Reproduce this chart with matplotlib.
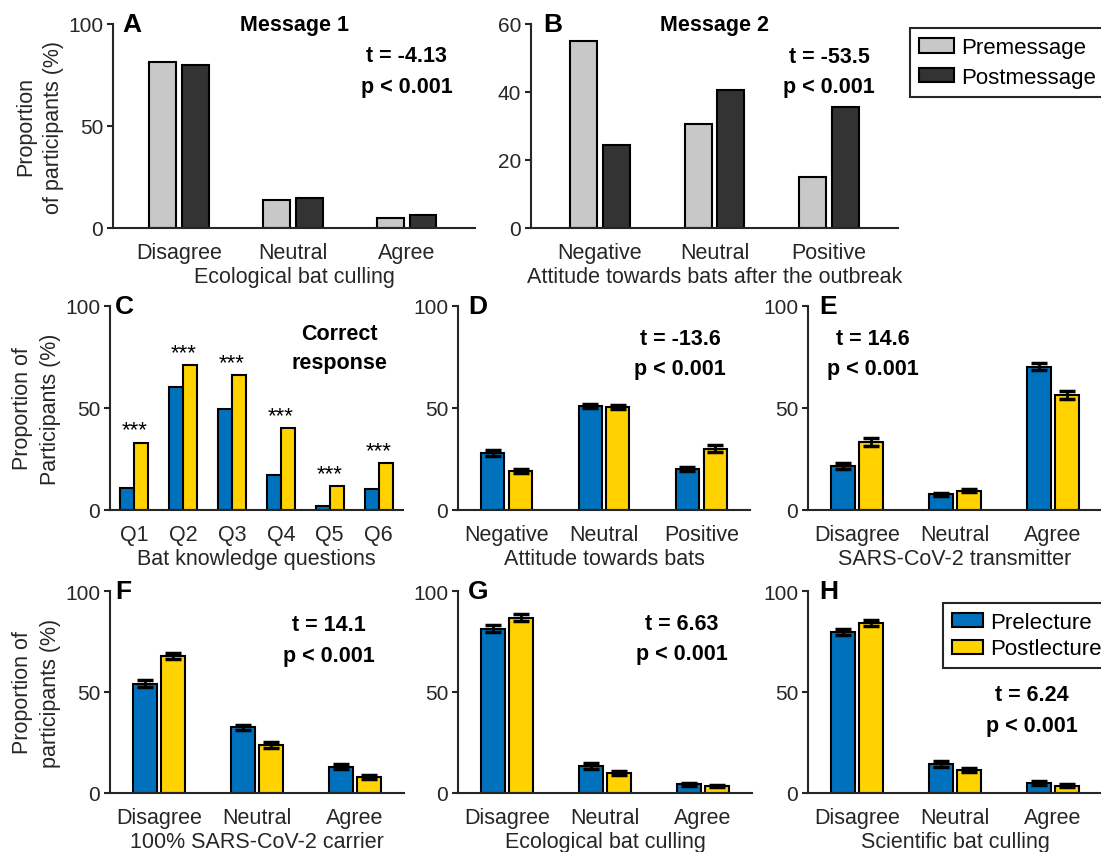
import matplotlib.pyplot as plt
import numpy as np

plt.rcParams['font.family'] = ['Liberation Sans', 'DejaVu Sans']

# colours
pre_msg_color = '#c8c8c8'
post_msg_color = '#333333'
pre_lec_color = '#0072bd'
post_lec_color = '#ffd200'
axis_color = '#262626'

# ---- data ----
likert = ['Disagree', 'Neutral', 'Agree']
attitude = ['Negative', 'Neutral', 'Positive']
questions = ['Q1', 'Q2', 'Q3', 'Q4', 'Q5', 'Q6']

# A: ecological bat culling, message 1
a_pre = [81.6, 13.9, 4.9]
a_post = [79.7, 14.8, 6.2]
# B: attitude after the outbreak, message 2
b_pre = [55.0, 30.5, 14.9]
b_post = [24.5, 40.6, 35.7]
# C: correct response to knowledge questions
c_pre = [10.8, 60.3, 49.7, 17.3, 2.0, 10.1]
c_post = [33.0, 70.9, 66.3, 40.2, 11.8, 22.9]
c_sig = ['***'] * 6
# D: attitude towards bats
d_pre = [28.1, 51.0, 20.3]
d_post = [19.1, 50.7, 30.1]
d_pre_err = [1.5, 1.0, 1.0]
d_post_err = [1.0, 1.0, 1.6]
# E: SARS-CoV-2 transmitter
e_pre = [21.6, 7.7, 70.3]
e_post = [33.3, 9.5, 56.4]
e_pre_err = [1.5, 0.6, 1.6]
e_post_err = [1.8, 0.8, 2.0]
# F: 100% SARS-CoV-2 carrier
f_pre = [54.2, 32.5, 13.0]
f_post = [67.7, 23.9, 7.7]
f_pre_err = [1.6, 1.4, 1.2]
f_post_err = [1.6, 1.5, 1.0]
# G: ecological bat culling
g_pre = [81.4, 13.5, 4.4]
g_post = [86.8, 9.9, 3.3]
g_pre_err = [1.6, 1.4, 0.7]
g_post_err = [1.6, 1.2, 0.5]
# H: scientific bat culling
h_pre = [79.7, 14.3, 4.9]
h_post = [84.3, 11.4, 3.6]
h_pre_err = [1.6, 1.4, 0.8]
h_post_err = [1.5, 1.2, 0.8]

W, H = 1101, 853
fig = plt.figure(figsize=(W / 100, H / 100), dpi=100)


def add_axes(left, right, top, bottom):
    return fig.add_axes([left / W, 1 - bottom / H, (right - left) / W, (bottom - top) / H])


def style(ax, cats, ymax, yticks, xlim, xlabel, ylabel=None):
    for s in ['top', 'right']:
        ax.spines[s].set_visible(False)
    for s in ['left', 'bottom']:
        ax.spines[s].set_linewidth(1.5)
        ax.spines[s].set_color(axis_color)
    ax.set_xlim(*xlim)
    ax.set_ylim(0, ymax)
    ax.set_yticks(yticks)
    ax.set_xticks(np.arange(1, len(cats) + 1))
    ax.set_xticklabels(cats)
    ax.tick_params(axis='y', direction='out', length=4, width=1.5, color=axis_color,
                   labelcolor=axis_color, labelsize=15, pad=3)
    ax.tick_params(axis='x', length=0, pad=10, labelcolor=axis_color, labelsize=15.5)
    ax.set_xlabel(xlabel, fontsize=15.5, color=axis_color, labelpad=2)
    if ylabel:
        ax.set_ylabel(ylabel, fontsize=15.5, color=axis_color, labelpad=3, linespacing=1.45)


def grouped(ax, pre, post, colors, width=0.235, off=0.143, pre_err=None, post_err=None, labels=(None, None)):
    x = np.arange(1, len(pre) + 1)
    b1 = ax.bar(x - off, pre, width, color=colors[0], edgecolor='black', linewidth=1.5, label=labels[0], zorder=2)
    b2 = ax.bar(x + off, post, width, color=colors[1], edgecolor='black', linewidth=1.5, label=labels[1], zorder=2)
    if pre_err is not None:
        ax.errorbar(x - off, pre, yerr=pre_err, fmt='none', ecolor='black', elinewidth=2,
                    capsize=6, capthick=2.5, zorder=3)
        ax.errorbar(x + off, post, yerr=post_err, fmt='none', ecolor='black', elinewidth=2,
                    capsize=6, capthick=2.5, zorder=3)
    return b1, b2


def letter(ax, s, xfrac=0.03):
    ax.text(xfrac, 1.0, s, transform=ax.transAxes, fontsize=19, fontweight='bold', va='center', ha='left')


def stats(ax, x, y, t):
    ax.text(x, y, f't = {t}\np < 0.001', ha='center', va='center', fontsize=15.5,
            fontweight='bold', linespacing=1.6)


msg_colors = (pre_msg_color, post_msg_color)
lec_colors = (pre_lec_color, post_lec_color)

# ---- row 1 ----
ax_a = add_axes(113, 475, 25, 229)
grouped(ax_a, a_pre, a_post, msg_colors)
style(ax_a, likert, 100, [0, 50, 100], (0.42, 3.6), 'Ecological bat culling',
      'Proportion\nof participants (%)')
letter(ax_a, 'A', 0.025)
ax_a.text(0.5, 1.0, 'Message 1', transform=ax_a.transAxes, ha='center', va='center',
          fontsize=15.5, fontweight='bold')
stats(ax_a, 3, 77, '-4.13')

ax_b = add_axes(531, 898, 25, 229)
hb = grouped(ax_b, b_pre, b_post, msg_colors, labels=('Premessage', 'Postmessage'))
style(ax_b, attitude, 60, [0, 20, 40, 60], (0.4, 3.6), 'Attitude towards bats after the outbreak')
letter(ax_b, 'B', 0.033)
ax_b.text(0.5, 1.0, 'Message 2', transform=ax_b.transAxes, ha='center', va='center',
          fontsize=15.5, fontweight='bold')
stats(ax_b, 3, 46, '-53.5')
ax_b.legend(handles=hb, loc='upper left', bbox_to_anchor=(910 / W, 1 - 29 / H),
            bbox_transform=fig.transFigure, borderaxespad=0, fontsize=16, frameon=True,
            fancybox=False, edgecolor=axis_color, framealpha=1, handlelength=1.6,
            handleheight=0.65, handletextpad=0.3, labelspacing=0.4, borderpad=0.4).get_frame().set_linewidth(1.5)

# ---- row 2 ----
ax_c = add_axes(110, 403, 307, 511)
grouped(ax_c, c_pre, c_post, lec_colors, width=0.286, off=0.143)
style(ax_c, questions, 100, [0, 50, 100], (0.5, 6.5), 'Bat knowledge questions',
      'Proportion of\nParticipants (%)')
letter(ax_c, 'C', 0.017)
for i, s in enumerate(c_sig):
    ax_c.text(i + 1, max(c_pre[i], c_post[i]) + 1, s, ha='center', va='bottom', fontsize=16)
ax_c.text(5.19, 79.4, 'Correct\nresponse', ha='center', va='center', fontsize=15.5,
          fontweight='bold', linespacing=1.45)

ax_d = add_axes(458, 750, 307, 511)
grouped(ax_d, d_pre, d_post, lec_colors, pre_err=d_pre_err, post_err=d_post_err)
style(ax_d, attitude, 100, [0, 50, 100], (0.5, 3.5), 'Attitude towards bats')
letter(ax_d, 'D', 0.034)
stats(ax_d, 2.78, 76.7, '-13.6')

ax_e = add_axes(808, 1102, 307, 511)
grouped(ax_e, e_pre, e_post, lec_colors, pre_err=e_pre_err, post_err=e_post_err)
style(ax_e, likert, 100, [0, 50, 100], (0.5, 3.5), 'SARS-CoV-2 transmitter')
letter(ax_e, 'E', 0.038)
stats(ax_e, 1.16, 76.7, '14.6')

# ---- row 3 ----
ax_f = add_axes(110, 404, 592, 794)
grouped(ax_f, f_pre, f_post, lec_colors, pre_err=f_pre_err, post_err=f_post_err)
style(ax_f, likert, 100, [0, 50, 100], (0.5, 3.5), '100% SARS-CoV-2 carrier',
      'Proportion of\nparticipants (%)')
letter(ax_f, 'F', 0.017)
stats(ax_f, 2.73, 75.7, '14.1')

ax_g = add_axes(458, 752, 592, 794)
grouped(ax_g, g_pre, g_post, lec_colors, pre_err=g_pre_err, post_err=g_post_err)
style(ax_g, likert, 100, [0, 50, 100], (0.5, 3.5), 'Ecological bat culling')
letter(ax_g, 'G', 0.034)
stats(ax_g, 2.78, 76.5, '6.63')

ax_h = add_axes(808, 1102, 592, 794)
hh = grouped(ax_h, h_pre, h_post, lec_colors, pre_err=h_pre_err, post_err=h_post_err,
             labels=('Prelecture', 'Postlecture'))
style(ax_h, likert, 100, [0, 50, 100], (0.5, 3.5), 'Scientific bat culling')
letter(ax_h, 'H', 0.038)
stats(ax_h, 2.78, 41, '6.24')
ax_h.legend(handles=hh, loc='upper left', bbox_to_anchor=(943 / W, 1 - 604 / H),
            bbox_transform=fig.transFigure, borderaxespad=0, fontsize=16, frameon=True,
            fancybox=False, edgecolor=axis_color, framealpha=1, handlelength=1.4,
            handleheight=0.6, handletextpad=0.3, labelspacing=0.25, borderpad=0.4).get_frame().set_linewidth(1.5)

fig.savefig('out.png', dpi=100)
